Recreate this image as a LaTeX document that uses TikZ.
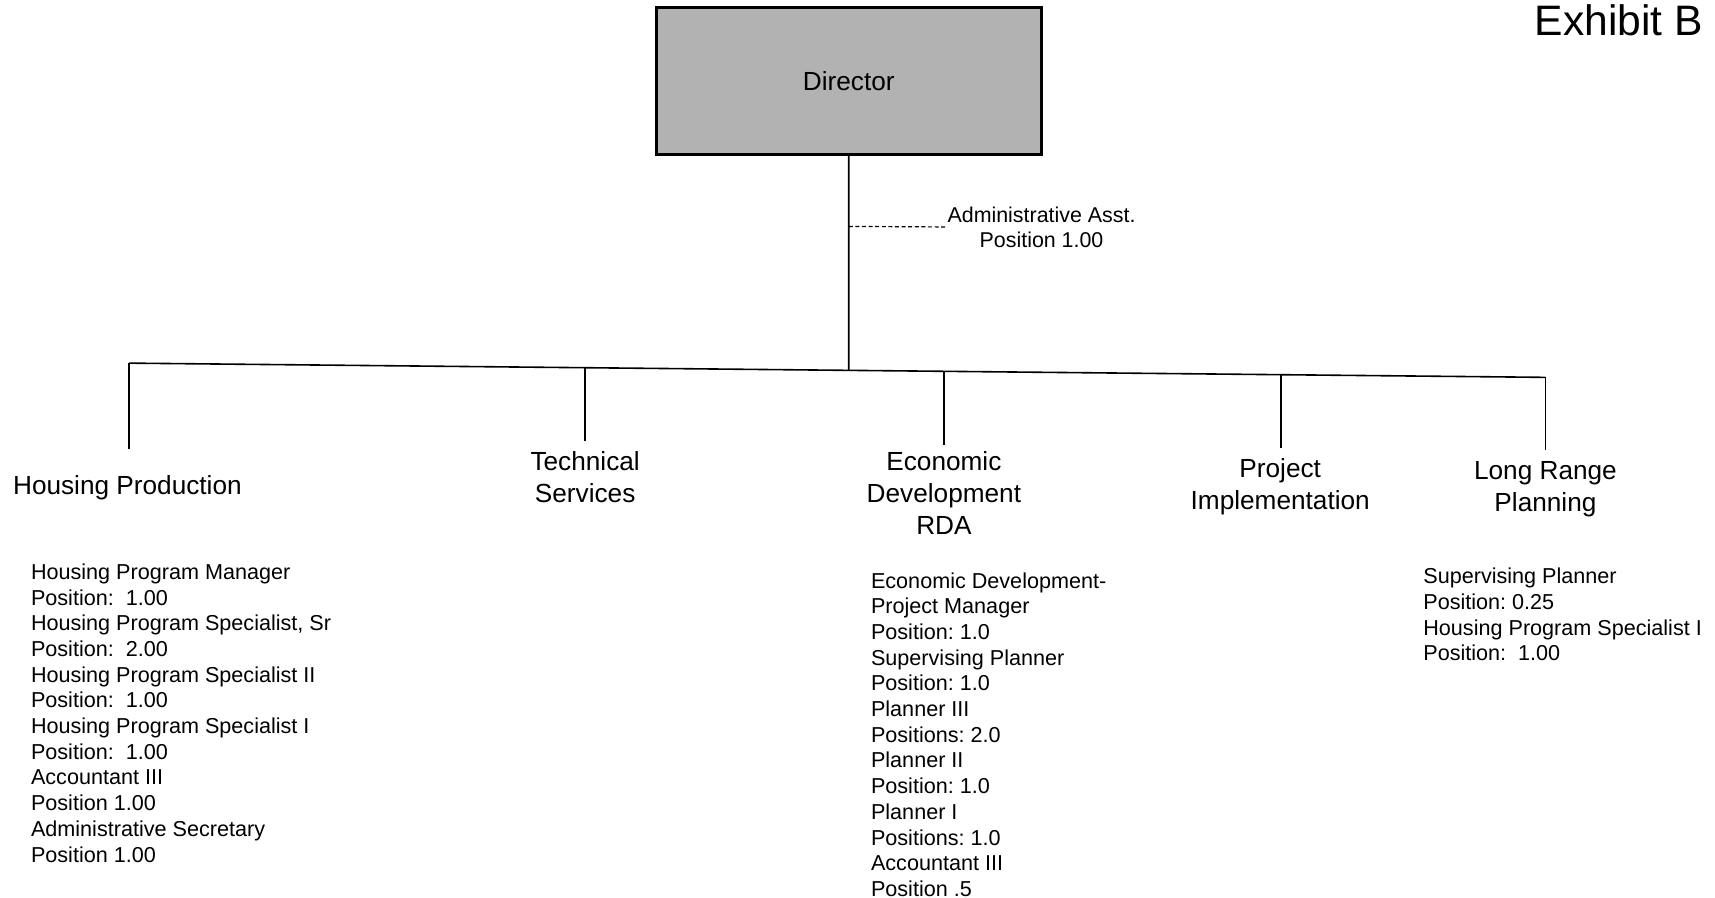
\documentclass[tikz,border=0pt]{standalone}
\usepackage{fontspec}
\setmainfont{Liberation Sans}
\usetikzlibrary{calc}
\frenchspacing
\begin{document}
\begin{tikzpicture}[x=0.546875pt,y=-0.546875pt,
  link/.style={draw=black, line width=0.8pt},
  hdr/.style={font=\fontsize{13.1}{16.1}\selectfont, align=center, inner sep=0pt, anchor=north},
  lst/.style={font=\fontsize{10.8}{12.85}\selectfont, align=left, inner sep=0pt, anchor=north west},
]
\useasboundingbox (0,0) rectangle (1568,821);
% Director
\node[draw, line width=1.4pt, fill=black!30, minimum width=192.5pt, minimum height=73.3pt,
      inner sep=0pt, font=\fontsize{13.1}{16}\selectfont] (dir) at (776,74) {Director};
\node[anchor=base west, inner sep=0pt, font=\fontsize{21.3}{25}\selectfont] (exb) at (1403,32) {Exhibit B};
% admin asst
\node[anchor=west, inner sep=0pt, align=center, font=\fontsize{10.7}{12.6}\selectfont] (adm) at (866,207.5)
  {Administrative Asst.\\Position 1.00};
% bar
\coordinate (barL) at (118,332);
\coordinate (barR) at (1413,345);
\coordinate (dirb) at ($(barL)!0.5081!(barR)$);
\coordinate (tsb) at ($(barL)!0.3220!(barR)$);
\coordinate (edb) at ($(barL)!0.5753!(barR)$);
\coordinate (pib) at ($(barL)!0.8131!(barR)$);
\coordinate (dsh) at (776,207);
% headers
\node[hdr] (hp) at (116.5,434.4) {Housing Production};
\node[hdr] (ts) at (535,412.4) {Technical\\Services};
\node[hdr] (ed) at (863,412.4) {Economic\\Development\\RDA};
\node[hdr] (pi) at (1170.5,418.4) {Project\\Implementation};
\node[hdr] (lr) at (1413,421.4) {Long Range\\Planning};
% connectors
\draw[link] (dir.south) -- (dirb);
\draw[link] (barL) -- (barR);
\draw[dashed, dash pattern=on 2pt off 1.3pt, line width=0.6pt] (dsh) -- (adm.west);
\draw[link, shorten >=13.3pt] (barL) -- (barL |- hp.north);
\draw[link, shorten >=5.1pt] (tsb) -- (tsb |- ts.north);
\draw[link, shorten >=3pt] (edb) -- (edb |- ed.north);
\draw[link, shorten >=4.6pt] (pib) -- (pib |- pi.north);
\draw[link, shorten >=5.7pt] (barR) -- (barR |- lr.north);
% lists
\node[lst] (hpl) at (28,515) {Housing Program Manager\\
Position:\ \ 1.00\\
Housing Program Specialist, Sr\\
Position:\ \ 2.00\\
Housing Program Specialist II\\
Position:\ \ 1.00\\
Housing Program Specialist I\\
Position:\ \ 1.00\\
Accountant III\\
Position 1.00\\
Administrative Secretary\\
Position 1.00};
\node[lst] (edl) at (796,523) {Economic Development-\\
Project Manager\\
Position: 1.0\\
Supervising Planner\\
Position: 1.0\\
Planner III\\
Positions: 2.0\\
Planner II\\
Position: 1.0\\
Planner I\\
Positions: 1.0\\
Accountant III\\
Position .5};
\node[lst] (lrl) at (1301,519) {Supervising Planner\\
Position: 0.25\\
Housing Program Specialist I\\
Position:\ \ 1.00};
\end{tikzpicture}
\end{document}
